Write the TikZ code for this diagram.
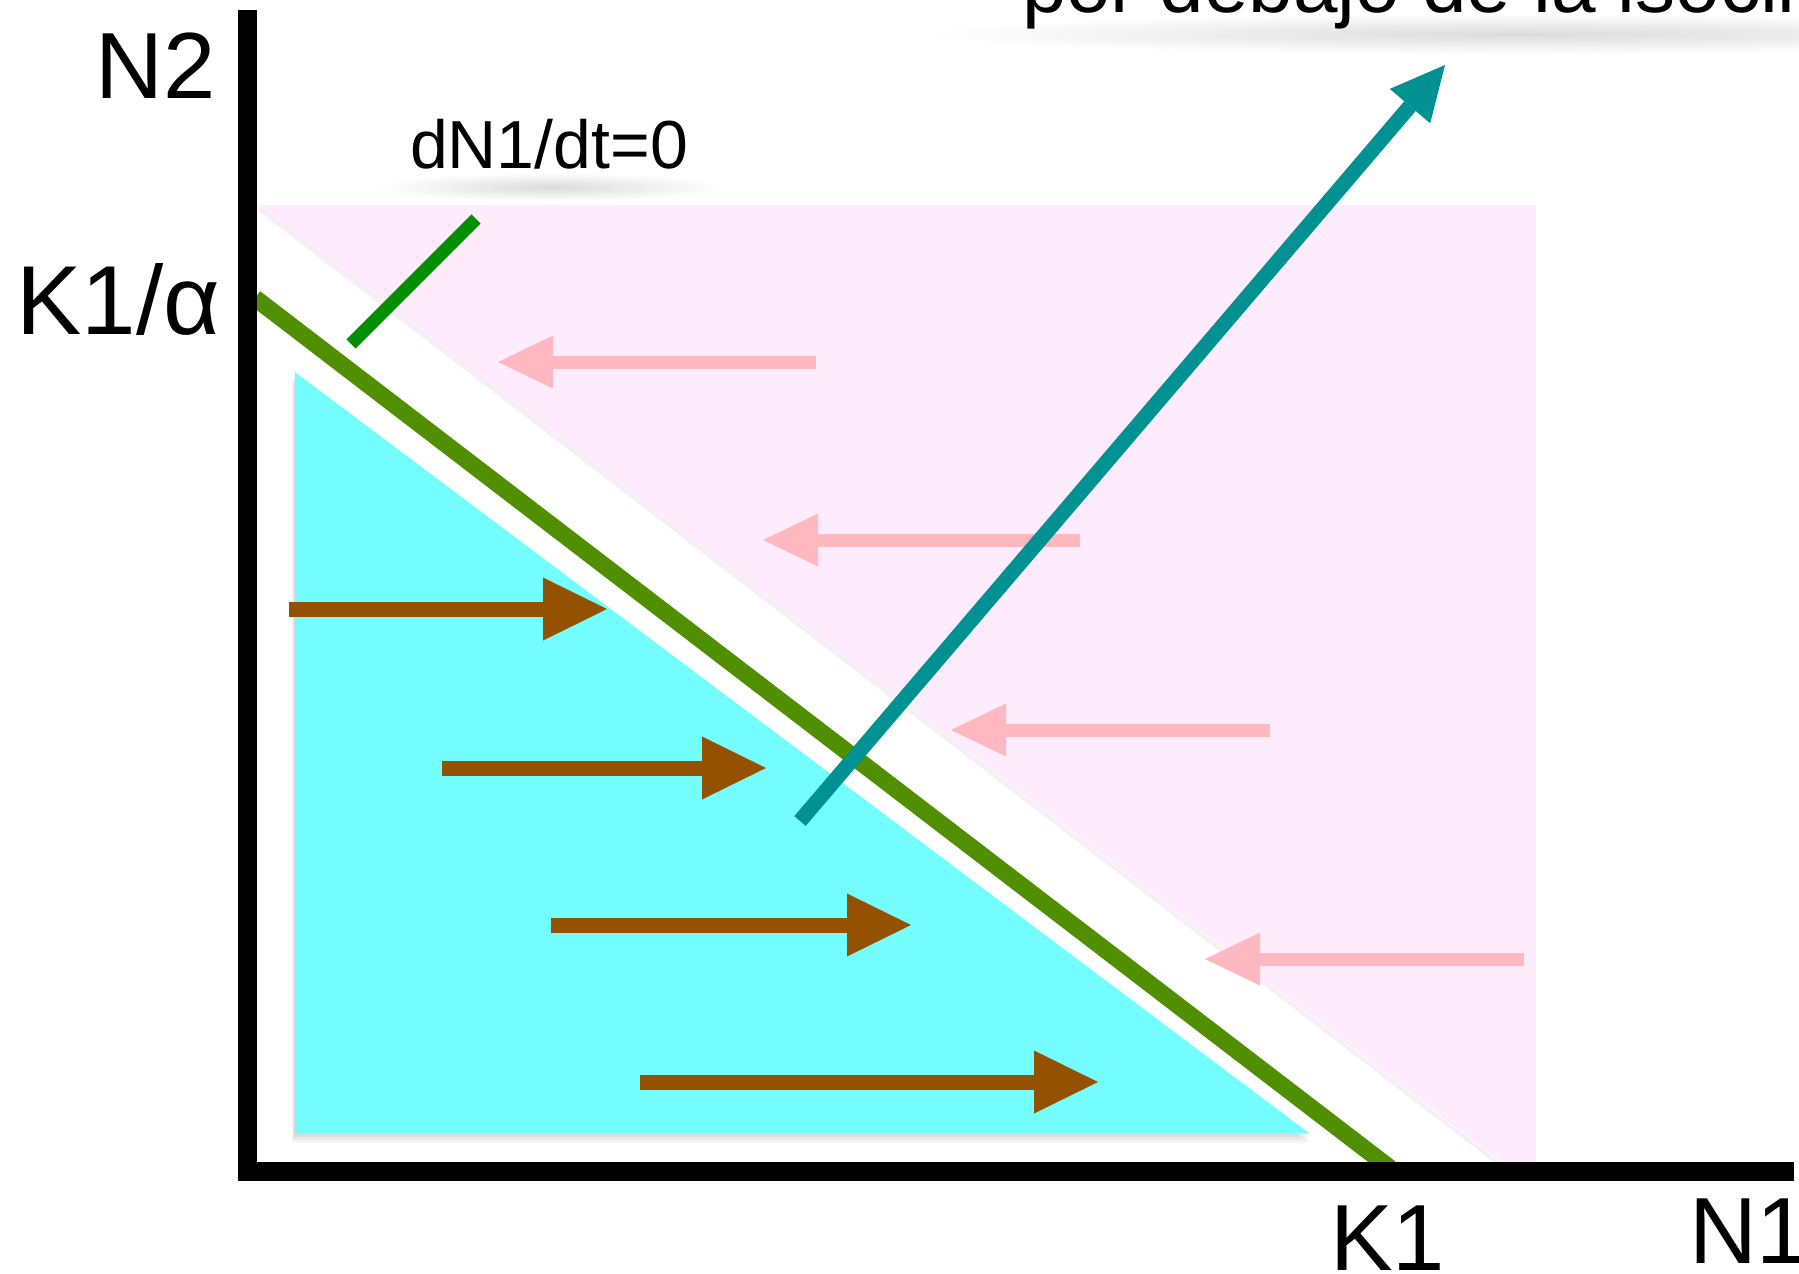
\documentclass[tikz,border=0pt]{standalone}
\usepackage{fontspec}
\setmainfont{Liberation Sans}
\usetikzlibrary{calc}
\definecolor{pinkbg}{HTML}{FEEBFC}
\definecolor{cyanfill}{HTML}{73FDFF}
\definecolor{isogreen}{HTML}{4F8F00}
\definecolor{dkgreen}{HTML}{008F00}
\definecolor{tealc}{HTML}{009193}
\definecolor{brownc}{HTML}{945200}
\definecolor{pinkarrow}{HTML}{FFB8BF}
\tikzset{
  lbl/.style={inner sep=0pt, outer sep=0pt, text=black},
  axisline/.style={line width=9.5pt, black},
}
\begin{document}
\begin{tikzpicture}[x=0.5pt,y=-0.5pt]
\useasboundingbox (0,0) rectangle (1799,1274);
\clip (0,0) rectangle (1799,1274);
\fill[white] (0,0) rectangle (1799,1274);

% text shadows
\shade[inner color=black!14, outer color=white] (1520,34) ellipse [x radius=300pt, y radius=10pt];
\shade[inner color=black!14, outer color=white] (550,187) ellipse [x radius=88pt, y radius=7pt];

% top (cut) text
\node[lbl, anchor=base west, font=\fontsize{40pt}{40pt}\selectfont] (toptext) at (1022,12) {por debajo de la isoclina};

% pink region
\fill[pinkbg] (257,205) -- (1536,205) -- (1536,1162) -- (1501,1162) -- cycle;
\draw[black, opacity=0.05, line width=2pt] (259,209) -- (1499,1164);

% cyan triangle with soft shadow
\foreach \s in {2,4,6,8,10}{
  \fill[black, opacity=0.03] (295-\s*0.3,372+\s) -- (295-\s*0.3,1133+\s) -- (1309,1133+\s) -- cycle;
}
\fill[cyanfill] (295,372) -- (295,1133) -- (1309,1133) -- cycle;

% brown arrows (right)
\foreach \a/\b/\y in {289/607/609, 442/766/768, 551/911/925, 640/1098/1082}{
  \fill[brownc] (\a,\y-7.5) rectangle (\b-64,\y+7.5);
  \fill[brownc] (\b-64,\y-31.5) -- (\b,\y) -- (\b-64,\y+31.5) -- cycle;
}

% pink arrows (left)
\foreach \a/\b/\y in {816/498/362, 1080/763/540, 1270/951/730, 1524/1205/959}{
  \fill[pinkarrow] (\b+55,\y-6.5) rectangle (\a,\y+6.5);
  \fill[pinkarrow] (\b+55,\y-26.5) -- (\b,\y) -- (\b+55,\y+26.5) -- cycle;
}

% isocline
\coordinate (isoA) at (255,298);
\coordinate (isoB) at (1390,1168);
\draw[isogreen, line width=8.5pt] (isoA) -- (isoB);

% small green segment
\coordinate (sgA) at (351,344);
\coordinate (sgB) at (476,219);
\draw[dkgreen, line width=6.5pt] (sgA) -- (sgB);

% teal arrow
\coordinate (tA) at (800,821);
\coordinate (tB) at (1410,106.1);
\coordinate (tTip) at (1445,65);
\draw[tealc, line width=7.5pt] (tA) -- (tB);
\fill[tealc] (1430.2,123.3) -- (tTip) -- (1389.8,88.9) -- cycle;

% axes
\draw[axisline] (247.5,10) -- (247.5,1180);
\draw[axisline] (238,1171) -- (1794,1171);

% labels
\node[lbl, anchor=base east, font=\fontsize{47pt}{47pt}\selectfont] (n2) at (216,98) {N2};
\node[lbl, anchor=base east, font=\fontsize{49pt}{49pt}\selectfont] (k1a) at (220,334) {K1/α};
\node[lbl, anchor=base west, font=\fontsize{47pt}{47pt}\selectfont] (k1) at (1330,1270) {K1};
\node[lbl, anchor=base west, font=\fontsize{47pt}{47pt}\selectfont] (n1) at (1689,1263) {N1};
\node[lbl, anchor=base west, font=\fontsize{34pt}{34pt}\selectfont] (dn) at (410,168) {dN1/dt=0};
\end{tikzpicture}
\end{document}
